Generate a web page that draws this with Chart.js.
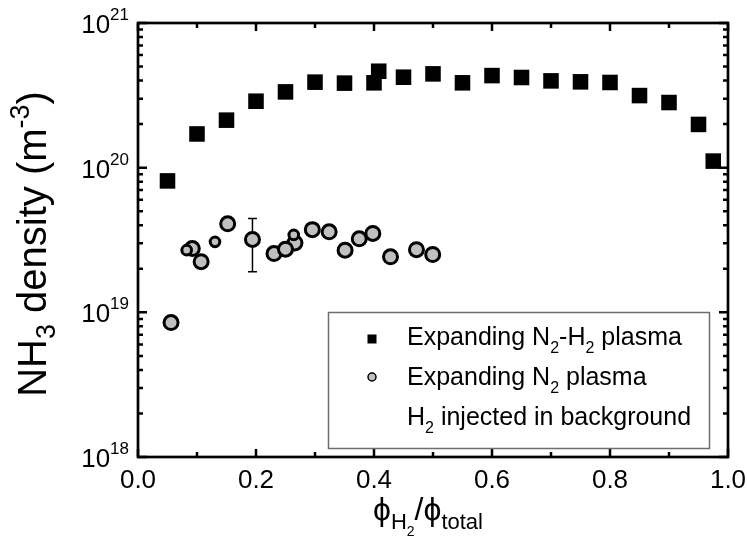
<!DOCTYPE html>
<html>
<head>
<meta charset="utf-8">
<script src="https://cdn.jsdelivr.net/npm/chart.js@4.4.1/dist/chart.umd.min.js"></script>
<style>
  html, body { margin: 0; padding: 0; background: #fff; }
  #wrap { width: 747px; height: 553px; }
</style>
</head>
<body>
<div id="wrap"><canvas id="nh3Chart" width="747" height="553"></canvas></div>
<script>
// Expanding N2-H2 plasma (squares)
const fracN2H2 = [0.05, 0.10, 0.15, 0.20, 0.25, 0.30, 0.35, 0.40, 0.408, 0.45, 0.50, 0.55, 0.60, 0.65, 0.70, 0.75, 0.80, 0.85, 0.90, 0.95, 0.975];
const densN2H2 = [8.1e19, 1.71e20, 2.13e20, 2.88e20, 3.34e20, 3.9e20, 3.84e20, 3.86e20, 4.64e20, 4.22e20, 4.45e20, 3.86e20, 4.33e20, 4.2e20, 3.98e20, 3.92e20, 3.88e20, 3.15e20, 2.82e20, 1.99e20, 1.11e20];

// Expanding N2 plasma, H2 injected in background (circles)
const fracN2 = [0.056, 0.092, 0.0825, 0.107, 0.1305, 0.152, 0.194, 0.2305, 0.266, 0.250, 0.264, 0.2955, 0.324, 0.351, 0.375, 0.398, 0.428, 0.472, 0.4995];
const densN2 = [8.5e18, 2.76e19, 2.69e19, 2.24e19, 3.07e19, 4.09e19, 3.19e19, 2.55e19, 3.02e19, 2.73e19, 3.43e19, 3.73e19, 3.6e19, 2.69e19, 3.22e19, 3.51e19, 2.42e19, 2.71e19, 2.51e19];
const smallN2 = [false, false, true, false, true, false, false, false, false, false, true, false, false, false, false, false, false, false, false];

// error bar on one circle
const errX = [0.194];
const errLow = [1.91e19];
const errHigh = [4.45e19];

// axis ticks
const xMajor = [0.0, 0.2, 0.4, 0.6, 0.8, 1.0];
const xMajorLabels = ['0.0', '0.2', '0.4', '0.6', '0.8', '1.0'];
const xMinor = [0.1, 0.3, 0.5, 0.7, 0.9];
const yMajor = [1e18, 1e19, 1e20, 1e21];
const yMajorExp = ['18', '19', '20', '21'];

const FONT = '"Liberation Sans", Arial, sans-serif';

// draw text made of runs [text, size, dy]
function drawRuns(ctx, runs, x, y, align) {
    let w = 0;
    runs.forEach((r) => {
        ctx.font = r[1] + 'px ' + FONT;
        w += ctx.measureText(r[0]).width;
    });
    let cx = x;
    if (align === 'center') cx = x - w / 2;
    if (align === 'right') cx = x - w;
    ctx.textAlign = 'left';
    ctx.textBaseline = 'alphabetic';
    runs.forEach((r) => {
        ctx.font = r[1] + 'px ' + FONT;
        ctx.fillText(r[0], cx, y + r[2]);
        cx += ctx.measureText(r[0]).width;
    });
}

const errorBars = {
    id: 'errorBars',
    beforeDatasetsDraw(chart) {
        const ctx = chart.ctx;
        const xs = chart.scales.x, ys = chart.scales.y;
        ctx.save();
        ctx.strokeStyle = '#000';
        ctx.lineWidth = 1.5;
        errX.forEach((v, i) => {
            const px = xs.getPixelForValue(v);
            const top = ys.getPixelForValue(errHigh[i]);
            const bot = ys.getPixelForValue(errLow[i]);
            ctx.beginPath();
            ctx.moveTo(px, top); ctx.lineTo(px, bot);
            ctx.moveTo(px - 4.5, top); ctx.lineTo(px + 4.5, top);
            ctx.moveTo(px - 4.5, bot); ctx.lineTo(px + 4.5, bot);
            ctx.stroke();
        });
        ctx.restore();
    }
};

const frameAndText = {
    id: 'frameAndText',
    afterDraw(chart) {
        const ctx = chart.ctx;
        const a = chart.chartArea;
        const xs = chart.scales.x, ys = chart.scales.y;
        ctx.save();
        ctx.strokeStyle = '#000';
        ctx.fillStyle = '#000';

        // inward ticks
        ctx.lineWidth = 2.5;
        ctx.beginPath();
        xMajor.forEach((v) => {
            const px = xs.getPixelForValue(v);
            ctx.moveTo(px, a.bottom); ctx.lineTo(px, a.bottom - 8);
            ctx.moveTo(px, a.top); ctx.lineTo(px, a.top + 8);
        });
        xMinor.forEach((v) => {
            const px = xs.getPixelForValue(v);
            ctx.moveTo(px, a.bottom); ctx.lineTo(px, a.bottom - 5);
            ctx.moveTo(px, a.top); ctx.lineTo(px, a.top + 5);
        });
        yMajor.forEach((v, i) => {
            const py = ys.getPixelForValue(v);
            ctx.moveTo(a.left, py); ctx.lineTo(a.left + 9, py);
            ctx.moveTo(a.right, py); ctx.lineTo(a.right - 9, py);
            if (i < yMajor.length - 1) {
                for (let k = 2; k <= 9; k++) {
                    const pm = ys.getPixelForValue(v * k);
                    ctx.moveTo(a.left, pm); ctx.lineTo(a.left + 5, pm);
                    ctx.moveTo(a.right, pm); ctx.lineTo(a.right - 5, pm);
                }
            }
        });
        ctx.stroke();

        // frame
        ctx.lineWidth = 2.7;
        ctx.strokeRect(a.left, a.top, a.right - a.left, a.bottom - a.top);

        // x tick labels
        ctx.font = '26px ' + FONT;
        ctx.textAlign = 'center';
        ctx.textBaseline = 'alphabetic';
        xMajor.forEach((v, i) => {
            ctx.fillText(xMajorLabels[i], xs.getPixelForValue(v), a.bottom + 31);
        });

        // y tick labels 10^n
        yMajor.forEach((v, i) => {
            const py = ys.getPixelForValue(v);
            drawRuns(ctx, [['10', 26, 0], [yMajorExp[i], 17, -13]], a.left - 9, py + 10, 'right');
        });

        // y title
        ctx.save();
        ctx.translate(46, 244);
        ctx.rotate(-Math.PI / 2);
        drawRuns(ctx, [['NH', 40, 0], ['3', 27, 9], [' density (m', 40, 0], ['-3', 27, -17], [')', 40, 0]], 0, 0, 'center');
        ctx.restore();

        // x title
        drawRuns(ctx, [['\u03D5', 32, 0], ['H', 22, 9], ['2', 14, 16], ['/\u03D5', 32, 0], ['total', 22, 9]], (a.left + a.right) / 2 - 5, 520, 'center');

        // legend
        ctx.lineWidth = 1.5;
        ctx.strokeStyle = '#6e6e6e';
        ctx.strokeRect(328.5, 312.5, 381, 136);
        ctx.fillStyle = '#000';
        ctx.fillRect(367.5, 334.5, 9, 9);
        ctx.beginPath();
        ctx.arc(372, 377, 4, 0, Math.PI * 2);
        ctx.fillStyle = '#c0c0c0';
        ctx.fill();
        ctx.strokeStyle = '#000';
        ctx.lineWidth = 1.5;
        ctx.stroke();
        ctx.fillStyle = '#000';
        drawRuns(ctx, [['Expanding N', 25, 0], ['2', 16, 8], ['-H', 25, 0], ['2', 16, 8], [' plasma', 25, 0]], 407, 345, 'left');
        drawRuns(ctx, [['Expanding N', 25, 0], ['2', 16, 8], [' plasma', 25, 0]], 407, 385, 'left');
        drawRuns(ctx, [['H', 25, 0], ['2', 16, 8], [' injected in background', 25, 0]], 407, 425, 'left');

        ctx.restore();
    }
};

const ctx = document.getElementById('nh3Chart').getContext('2d');
new Chart(ctx, {
    type: 'scatter',
    data: {
        datasets: [{
            label: 'Expanding N2-H2 plasma',
            data: fracN2H2.map((x, i) => ({ x: x, y: densN2H2[i] })),
            pointStyle: 'rect',
            pointRadius: 11,
            backgroundColor: '#000',
            borderColor: '#000',
            borderWidth: 0
        }, {
            label: 'Expanding N2 plasma H2 injected in background',
            data: fracN2.map((x, i) => ({ x: x, y: densN2[i] })),
            pointStyle: 'circle',
            pointRadius: smallN2.map((s) => s ? 4.8 : 7),
            backgroundColor: '#c0c0c0',
            borderColor: '#000',
            borderWidth: 3
        }]
    },
    options: {
        responsive: false,
        animation: false,
        layout: { padding: { left: 138, top: 23, right: 19, bottom: 96 } },
        plugins: { legend: { display: false }, tooltip: { enabled: false } },
        scales: {
            x: { type: 'linear', min: 0, max: 1, display: false },
            y: { type: 'logarithmic', min: 1e18, max: 1e21, display: false }
        }
    },
    plugins: [errorBars, frameAndText]
});
</script>
</body>
</html>
